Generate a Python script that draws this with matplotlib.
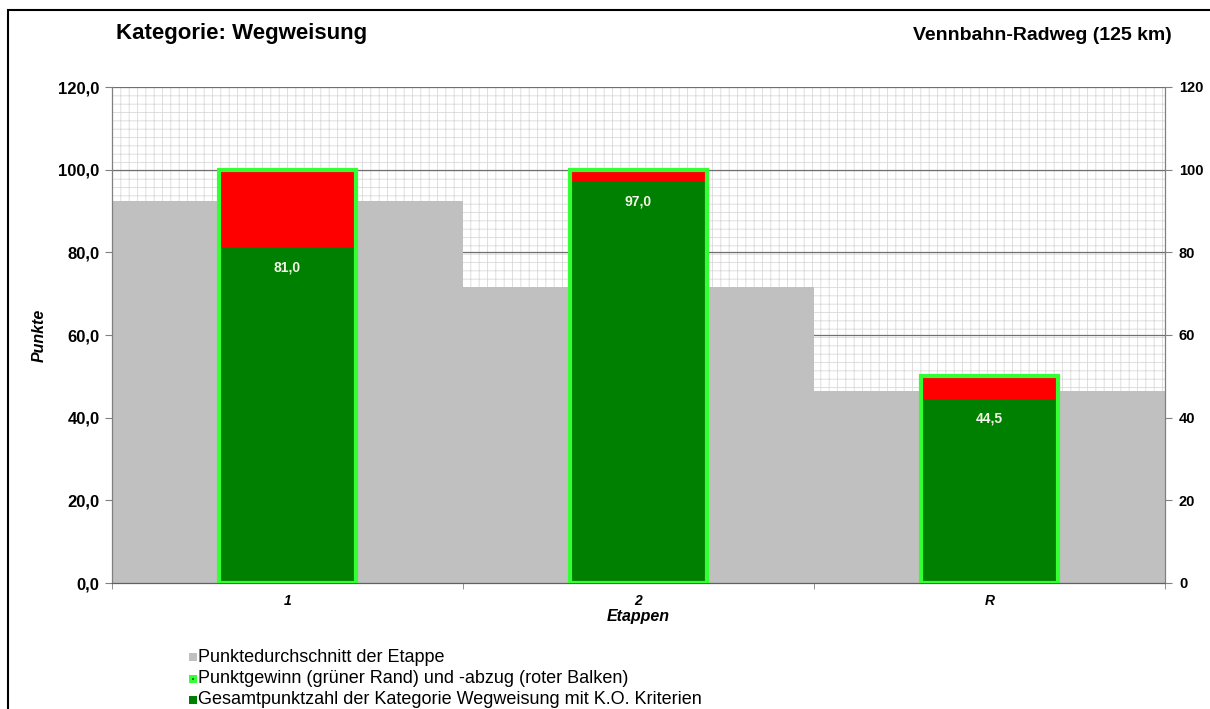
import matplotlib
matplotlib.use("Agg")
import matplotlib.pyplot as plt
from matplotlib.patches import Rectangle
from matplotlib.ticker import FuncFormatter, FixedLocator

plt.rcParams['font.family'] = ['Liberation Sans', 'DejaVu Sans']
plt.rcParams['hatch.linewidth'] = 0.6
plt.rcParams['hatch.color'] = '#d9d9d9'

# Werte je Etappe
etappen = ['1', '2', 'R']
durchschnitt = [92.3, 71.5, 46.5]   # Punktedurchschnitt der Etappe
maximum = [100.0, 100.0, 50.0]      # erreichbare Punkte
gesamt = [81.0, 97.0, 44.5]         # Gesamtpunktzahl mit K.O. Kriterien

GRAU = '#c0c0c0'
GRUEN = '#008000'
ROT = '#ff0000'
HELLGRUEN = '#33ff33'

fig = plt.figure(figsize=(12.1, 7.09), dpi=100)
ax = fig.add_axes([112/1210, 1-583/709, (1165-112)/1210, (583-87)/709])

x = list(range(len(etappen)))
ax.set_xlim(-0.5, len(etappen) - 0.5)
ax.set_ylim(0, 120)

# karierter Hintergrund
ax.add_patch(Rectangle((0, 0), 1, 1, transform=ax.transAxes, facecolor='white',
                       hatch='++', edgecolor='#d9d9d9', linewidth=0, zorder=0.1))

ax.set_axisbelow(True)
ax.yaxis.grid(True, color='#707070', linewidth=0.9)

ax.bar(x, durchschnitt, width=1.0, color=GRAU, zorder=1)
breite = 0.39
ax.bar(x, maximum, width=breite, color=ROT, zorder=2)
ax.bar(x, gesamt, width=breite, color=GRUEN, zorder=3)
ax.bar(x, maximum, width=breite, facecolor='none', edgecolor=HELLGRUEN,
       linewidth=3, zorder=4)

for xi, v in zip(x, gesamt):
    ax.annotate(f"{v:.1f}".replace('.', ','), (xi, v), xytext=(0, -14),
                textcoords='offset points', ha='center', va='center',
                color='#f4f4e8', fontsize=10, fontweight='bold', zorder=5)

# Achsen
fmt_links = FuncFormatter(lambda v, p: f"{v:.1f}".replace('.', ','))
ax.set_yticks(range(0, 121, 20))
ax.yaxis.set_major_formatter(fmt_links)
ax.tick_params(axis='y', labelsize=12, length=5, color='#808080', pad=4)
for t in ax.get_yticklabels():
    t.set_fontweight('bold')

ax.set_xticks(x)
ax.set_xticklabels(etappen, fontsize=10, fontweight='bold', fontstyle='italic')
ax.tick_params(axis='x', length=0, pad=8)
ax.xaxis.set_minor_locator(FixedLocator([-0.5, 0.5, 1.5, 2.5]))
ax.tick_params(axis='x', which='minor', length=4, color='#808080')

ax.set_ylabel('Punkte', fontsize=11.5, fontweight='bold', fontstyle='italic', labelpad=8)
ax.set_xlabel('Etappen', fontsize=11.5, fontweight='bold', fontstyle='italic', labelpad=1)

ax.spines['top'].set_visible(False)
ax.spines['left'].set_color('#808080')
ax.spines['right'].set_color('#808080')
ax.spines['bottom'].set_color('#606060')
for s in ax.spines.values():
    s.set_linewidth(0.9)

ax2 = ax.twinx()
ax2.set_ylim(0, 120)
ax2.set_yticks(range(0, 121, 20))
ax2.tick_params(axis='y', labelsize=10.5, length=5, color='#808080', pad=5)
for t in ax2.get_yticklabels():
    t.set_fontweight('bold')
for s in ax2.spines.values():
    s.set_visible(False)

# Titel
fig.text(116/1210, 1-33/709, 'Kategorie: Wegweisung', fontsize=16, fontweight='bold',
         ha='left', va='center')
fig.text(1172/1210, 1-35/709, 'Vennbahn-Radweg (125 km)', fontsize=14, fontweight='bold',
         ha='right', va='center')

# Legende
eintraege = [
    (GRAU, GRAU, 'Punktedurchschnitt der Etappe'),
    (HELLGRUEN, GRUEN, 'Punktgewinn (grüner Rand) und -abzug (roter Balken)'),
    (GRUEN, GRUEN, 'Gesamtpunktzahl der Kategorie Wegweisung mit K.O. Kriterien'),
]
for i, (rand, innen, text) in enumerate(eintraege):
    y = 657 + i * 21.5
    fig.add_artist(Rectangle((189/1210, 1-(y+4)/709), 8/1210, 8/709,
                             facecolor=rand, edgecolor='none'))
    if rand != innen:
        fig.add_artist(Rectangle((192/1210, 1-(y+1)/709), 2/1210, 2/709,
                                 facecolor=innen, edgecolor='none'))
    fig.text(198/1210, 1-y/709, text, fontsize=13, ha='left', va='center')

# Rahmen
fig.add_artist(Rectangle((8/1210, -0.1), 1.2, 1.1 - 10/709, facecolor='none',
                         edgecolor='black', linewidth=1.5))

fig.savefig('out.png', dpi=100)
